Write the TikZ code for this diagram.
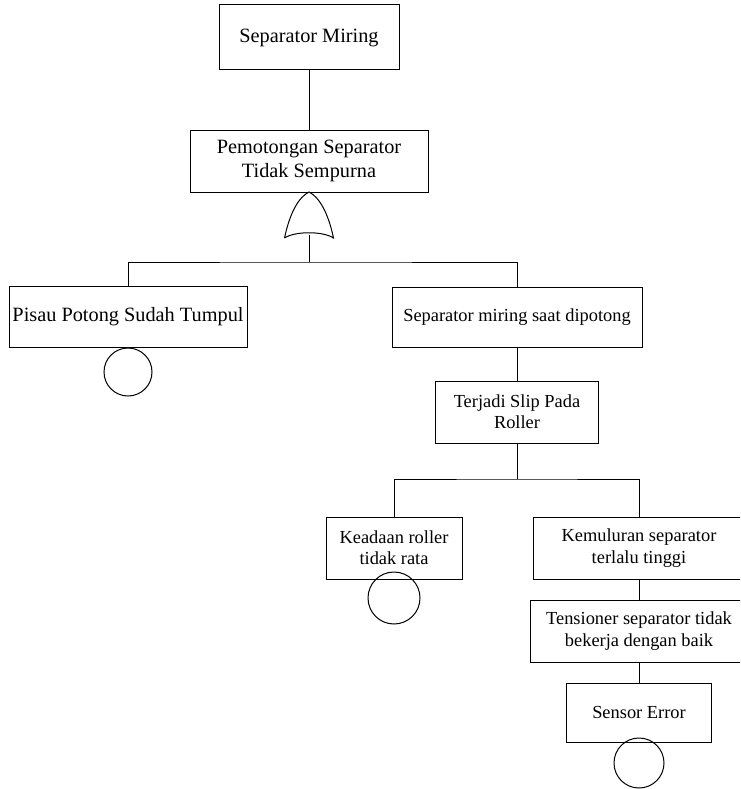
\documentclass[tikz,border=0pt]{standalone}
\usepackage{fontspec}
\setmainfont{Liberation Serif}
\begin{document}
\begin{tikzpicture}[x=1pt,y=-1pt,line width=1pt,
  bigbox/.style={draw,inner sep=0pt,align=center,font=\fontsize{20.3}{23.3}\selectfont},
  smallbox/.style={draw,inner sep=0pt,align=center,font=\fontsize{18.4}{21.3}\selectfont},
  basic/.style={draw,circle,inner sep=0pt}]
\clip (0,0) rectangle (740,789);
\fill[white] (0,0) rectangle (740,789);

% event boxes
\node[bigbox,minimum width=180pt,minimum height=65pt] (top) at (309,37.5) {Separator Miring};
\node[bigbox,minimum width=238pt,minimum height=62pt] (pem) at (309,161) {Pemotongan Separator\\Tidak Sempurna};
\node[bigbox,minimum width=238pt,minimum height=61pt] (pisau) at (128,316.5) {Pisau Potong Sudah Tumpul};
\node[smallbox,minimum width=250pt,minimum height=60pt] (smiring) at (517,317) {Separator miring saat dipotong};
\node[smallbox,minimum width=163pt,minimum height=62pt] (slip) at (517,412) {Terjadi Slip Pada\\Roller};
\node[smallbox,minimum width=136pt,minimum height=62pt] (keadaan) at (394,548) {Keadaan roller\\tidak rata};
\node[smallbox,minimum width=212pt,minimum height=62pt] (kemul) at (639,548) {Kemuluran separator\\terlalu tinggi};
\node[smallbox,minimum width=218pt,minimum height=62pt] (tens) at (639,631) {Tensioner separator tidak\\bekerja dengan baik};
\node[smallbox,minimum width=145pt,minimum height=59pt] (sensor) at (639,712.5) {Sensor Error};

% basic events
\node[basic,minimum size=48pt] (c1) at (128,372) {};
\node[basic,minimum size=52pt] (c2) at (394,598) {};
\node[basic,minimum size=50pt] (c3) at (639,763) {};

% OR gate under the second event
\coordinate (gtop) at (309,192);
\coordinate (gbot) at (309,234.5);
\draw[fill=white] (284.5,238) .. controls (290,212) and (299,197) .. (gtop)
  .. controls (319,197) and (328,212) .. (333.5,238)
  .. controls (323,231) and (295,231) .. (284.5,238);

% connectors
\coordinate (bar1) at (309,262);
\coordinate (bar2) at (517,479);
\draw (top.south) -- (pem.north);
\draw (gbot) -- (bar1);
\draw (pisau.north) |- (bar1) -| (smiring.north);
\draw (smiring.south) -- (slip.north);
\draw (slip.south) -- (bar2);
\draw (keadaan.north) |- (bar2) -| (kemul.north);
\draw (kemul.south) -- (tens.north);
\draw (tens.south) -- (sensor.north);
\end{tikzpicture}
\end{document}
